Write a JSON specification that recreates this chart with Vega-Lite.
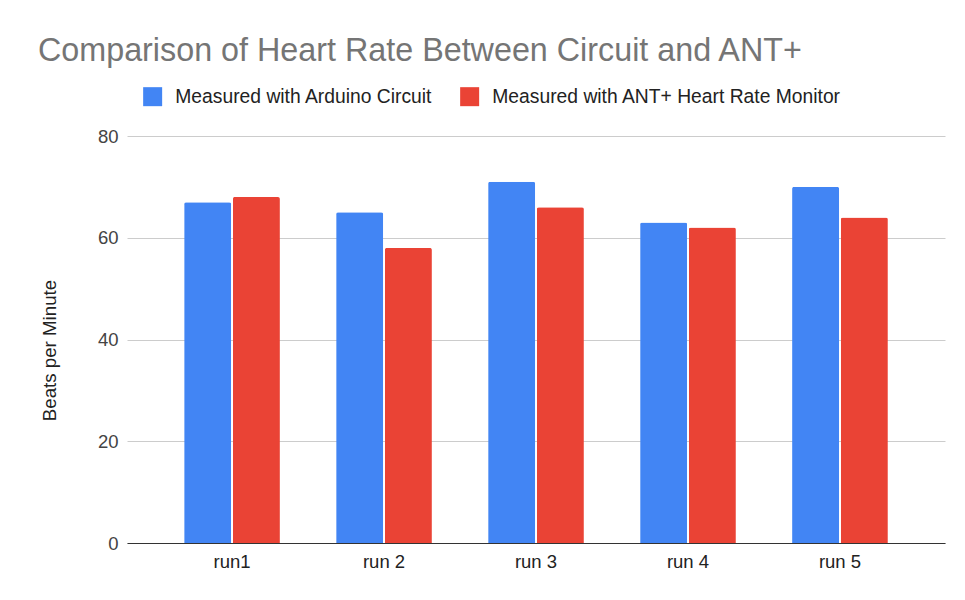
{
  "$schema": "https://vega.github.io/schema/vega-lite/v6.json",
  "autosize": "none",
  "width": 818,
  "height": 407,
  "padding": {"left": 127, "top": 136, "right": 20, "bottom": 57},
  "background": "white",
  "title": {
    "text": "Comparison of Heart Rate Between Circuit and ANT+",
    "anchor": "start",
    "frame": "group",
    "font": "Liberation Sans",
    "fontSize": 32.3,
    "fontWeight": "normal",
    "color": "#757575",
    "dx": -89,
    "offset": 20
  },
  "data": {
    "values": [
      {"run": "run1", "series": "Measured with Arduino Circuit", "bpm": 67},
      {"run": "run1", "series": "Measured with ANT+ Heart Rate Monitor", "bpm": 68},
      {"run": "run 2", "series": "Measured with Arduino Circuit", "bpm": 65},
      {"run": "run 2", "series": "Measured with ANT+ Heart Rate Monitor", "bpm": 58},
      {"run": "run 3", "series": "Measured with Arduino Circuit", "bpm": 71},
      {"run": "run 3", "series": "Measured with ANT+ Heart Rate Monitor", "bpm": 66},
      {"run": "run 4", "series": "Measured with Arduino Circuit", "bpm": 63},
      {"run": "run 4", "series": "Measured with ANT+ Heart Rate Monitor", "bpm": 62},
      {"run": "run 5", "series": "Measured with Arduino Circuit", "bpm": 70},
      {"run": "run 5", "series": "Measured with ANT+ Heart Rate Monitor", "bpm": 64}
    ]
  },
  "mark": {"type": "bar", "cornerRadiusTopLeft": 2, "cornerRadiusTopRight": 2},
  "encoding": {
    "x": {
      "field": "run",
      "type": "nominal",
      "sort": null,
      "scale": {"paddingInner": 0.37, "paddingOuter": 0.376},
      "axis": {
        "title": null,
        "labelAngle": 0,
        "labelFont": "Liberation Sans",
        "labelFontSize": 18.5,
        "labelColor": "#222222",
        "labelPadding": 9,
        "ticks": false,
        "domainColor": "#333333",
        "domainWidth": 1
      }
    },
    "xOffset": {
      "field": "series",
      "type": "nominal",
      "sort": ["Measured with Arduino Circuit", "Measured with ANT+ Heart Rate Monitor"],
      "scale": {"paddingInner": 0.035}
    },
    "y": {
      "field": "bpm",
      "type": "quantitative",
      "scale": {"domain": [0, 80]},
      "axis": {
        "title": "Beats per Minute",
        "titleFont": "Liberation Sans",
        "titleFontSize": 18.7,
        "titleFontWeight": "normal",
        "titleColor": "#222222",
        "titlePadding": 38,
        "titleY": 214,
        "values": [0, 20, 40, 60, 80],
        "labelFont": "Liberation Sans",
        "labelFontSize": 18.5,
        "labelColor": "#444444",
        "labelPadding": 9,
        "ticks": false,
        "domain": false,
        "gridColor": "#cccccc",
        "gridWidth": 1
      }
    },
    "color": {
      "field": "series",
      "type": "nominal",
      "sort": ["Measured with Arduino Circuit", "Measured with ANT+ Heart Rate Monitor"],
      "scale": {
        "domain": ["Measured with Arduino Circuit", "Measured with ANT+ Heart Rate Monitor"],
        "range": ["#4285F4", "#EA4335"]
      },
      "legend": {
        "title": null,
        "orient": "none",
        "direction": "horizontal",
        "legendX": 16,
        "legendY": -49,
        "symbolType": "square",
        "symbolSize": 361,
        "symbolStrokeWidth": 0,
        "symbolOpacity": 1,
        "labelFont": "Liberation Sans",
        "labelFontSize": 19.3,
        "labelColor": "#222222",
        "labelOffset": 13,
        "columnPadding": 27,
        "labelLimit": 400
      }
    }
  },
  "config": {
    "view": {"stroke": null}
  }
}
